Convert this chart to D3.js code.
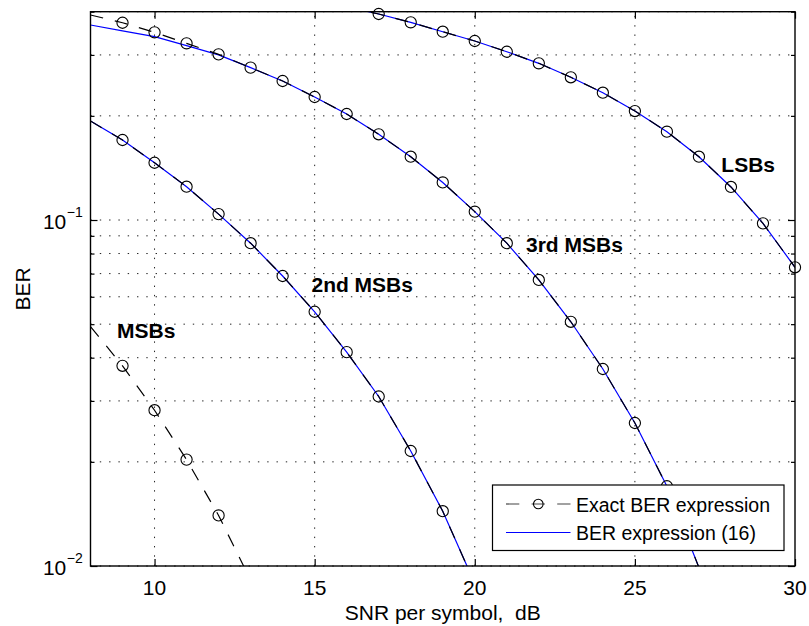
<!DOCTYPE html>
<html>
<head>
<meta charset="utf-8">
<script src="https://cdn.jsdelivr.net/npm/d3@7/dist/d3.min.js"></script>
<style>
  html, body { margin: 0; padding: 0; background: #fff; }
  svg { display: block; font-family: "Liberation Sans", Arial, Helvetica, sans-serif; }
  text { white-space: pre; }
</style>
</head>
<body>
<svg id="chart" width="809" height="626"></svg>
<script>
// SNR per symbol (dB) for each bit class
const snrMsb = [8, 9, 10, 11, 12, 13];
const snr2nd = [8, 9, 10, 11, 12, 13, 14, 15, 16, 17, 18, 19, 20];
const snr3rd = [8, 9, 10, 11, 12, 13, 14, 15, 16, 17, 18, 19, 20, 21, 22, 23, 24, 25, 26, 27];
const snrLsb = [16, 17, 18, 19, 20, 21, 22, 23, 24, 25, 26, 27, 28, 29, 30];

// Exact BER expression
const berMsbExact = [0.0492, 0.0379, 0.0282, 0.0203, 0.0140, 0.0091];
const ber2ndExact = [0.1932, 0.1703, 0.1464, 0.1248, 0.1040, 0.0857, 0.0689, 0.0543, 0.0415, 0.0309, 0.0215, 0.0144, 0.0089];
const ber3rdExact = [0.3914, 0.3717, 0.3487, 0.3241, 0.3012, 0.2756, 0.2522, 0.2267, 0.2025, 0.1769, 0.1524, 0.1284, 0.1057, 0.0857, 0.0671, 0.0508, 0.0371, 0.0259, 0.0170, 0.0099];
const berLsbExact = [0.413, 0.3939, 0.3727, 0.3501, 0.3291, 0.3064, 0.2837, 0.2585, 0.2333, 0.2065, 0.1800, 0.1524, 0.1246, 0.0978, 0.0730];

// BER expression (16)
const ber2ndApprox = [0.1932, 0.1703, 0.1464, 0.1248, 0.1040, 0.0857, 0.0689, 0.0543, 0.0415, 0.0309, 0.0215, 0.0144, 0.0089];
const ber3rdApprox = [0.3662, 0.3520, 0.3387, 0.3190, 0.3000, 0.2756, 0.2522, 0.2267, 0.2025, 0.1769, 0.1524, 0.1284, 0.1057, 0.0857, 0.0671, 0.0508, 0.0371, 0.0259, 0.0170, 0.0099];
const berLsbApprox = [0.413, 0.3939, 0.3727, 0.3501, 0.3291, 0.3064, 0.2837, 0.2585, 0.2333, 0.2065, 0.1800, 0.1524, 0.1246, 0.0978, 0.0730];

// Axis ticks
const xTicks = [10, 15, 20, 25, 30];
const xTickLabels = ["10", "15", "20", "25", "30"];
const yMajorTicks = [0.01, 0.1];
const yMajorExponents = ["\u22122", "\u22121"];
const yMinorTicks = [0.02, 0.03, 0.04, 0.05, 0.06, 0.07, 0.08, 0.09, 0.2, 0.3, 0.4];

// Curve annotations (anchored at the text baseline start)
const curveLabels = ["MSBs", "2nd MSBs", "3rd MSBs", "LSBs"];
const curveLabelSnr = [8.83, 14.90, 21.60, 27.70];
const curveLabelBer = [0.0457, 0.0621, 0.0810, 0.1379];

const legendLabels = ["Exact BER expression", "BER expression (16)"];
const xLabel = "SNR per symbol,  dB";
const yLabel = "BER";
const markerFrom = 9;

const svg = d3.select("#chart");
const plotLeft = 90.5, plotRight = 795, plotTop = 11.7, plotBottom = 566;

const x = d3.scaleLinear().domain([8, 30]).range([plotLeft, plotRight]);
const y = d3.scaleLog().domain([0.01, 0.4]).range([plotBottom, plotTop]);

svg.append("defs").append("clipPath").attr("id", "plotArea")
  .append("rect").attr("x", plotLeft).attr("y", plotTop)
  .attr("width", plotRight - plotLeft).attr("height", plotBottom - plotTop);

// Dotted grid
const grid = svg.append("g").attr("stroke", "#222").attr("stroke-width", 1)
  .attr("stroke-dasharray", "1.4,7.9");
grid.selectAll(".gx").data(xTicks.slice(0, -1)).join("line")
  .attr("x1", d => x(d)).attr("x2", d => x(d))
  .attr("y1", plotBottom).attr("y2", plotTop);
grid.selectAll(".gy").data(yMajorTicks.concat(yMinorTicks)).join("line")
  .attr("x1", plotLeft).attr("x2", plotRight)
  .attr("y1", d => y(d)).attr("y2", d => y(d));

// Axes with inward ticks on all four sides
const axisB = d3.axisBottom(x).tickValues(xTicks).tickSize(-7).tickFormat("");
const axisT = d3.axisTop(x).tickValues(xTicks).tickSize(-7).tickFormat("");
const axisLMajor = d3.axisLeft(y).tickValues(yMajorTicks).tickSize(-7).tickFormat("");
const axisLMinor = d3.axisLeft(y).tickValues(yMinorTicks).tickSize(-4).tickFormat("");
const axisRMajor = d3.axisRight(y).tickValues(yMajorTicks).tickSize(-7).tickFormat("");
const axisRMinor = d3.axisRight(y).tickValues(yMinorTicks).tickSize(-4).tickFormat("");

function styleAxis(g) {
  g.select(".domain").remove();
  g.selectAll(".tick line").attr("stroke", "#000").attr("stroke-width", 1.2);
}
svg.append("g").attr("transform", `translate(0,${plotBottom})`).call(axisB).call(styleAxis);
svg.append("g").attr("transform", `translate(0,${plotTop})`).call(axisT).call(styleAxis);
svg.append("g").attr("transform", `translate(${plotLeft},0)`).call(axisLMajor).call(styleAxis);
svg.append("g").attr("transform", `translate(${plotLeft},0)`).call(axisLMinor).call(styleAxis);
svg.append("g").attr("transform", `translate(${plotRight},0)`).call(axisRMajor).call(styleAxis);
svg.append("g").attr("transform", `translate(${plotRight},0)`).call(axisRMinor).call(styleAxis);

// Tick labels
svg.append("g").selectAll("text").data(xTicks).join("text")
  .attr("x", d => x(d)).attr("y", 594.5)
  .attr("text-anchor", "middle").attr("font-size", 21).attr("fill", "#000")
  .text((d, i) => xTickLabels[i]);

const yl = svg.append("g");
yl.selectAll(".base").data(yMajorTicks).join("text").attr("class", "base")
  .attr("x", 66.3).attr("y", d => y(d) + 8.6)
  .attr("text-anchor", "end").attr("font-size", 21).attr("fill", "#000")
  .text("10");
yl.selectAll(".exp").data(yMajorTicks).join("text").attr("class", "exp")
  .attr("x", 66.8).attr("y", d => y(d) - 3.5)
  .attr("text-anchor", "start").attr("font-size", 14).attr("fill", "#000")
  .text((d, i) => yMajorExponents[i]);

// Curves
const line = d3.line().x(d => x(d[0])).y(d => y(d[1]));
const pairs = (xs, ys) => xs.map((v, i) => [v, ys[i]]);

const approx = [pairs(snr2nd, ber2ndApprox), pairs(snr3rd, ber3rdApprox), pairs(snrLsb, berLsbApprox)];
const exact = [pairs(snrMsb, berMsbExact), pairs(snr2nd, ber2ndExact), pairs(snr3rd, ber3rdExact), pairs(snrLsb, berLsbExact)];

const curves = svg.append("g").attr("clip-path", "url(#plotArea)");
curves.selectAll(".approx").data(approx).join("path").attr("class", "approx")
  .attr("d", line).attr("fill", "none")
  .attr("stroke", "#0000ff").attr("stroke-width", 1.2);
curves.selectAll(".exact").data(exact).join("path").attr("class", "exact")
  .attr("d", line).attr("fill", "none")
  .attr("stroke", "#000").attr("stroke-width", 1.2)
  .attr("stroke-dasharray", "13,12");

// Circle markers on the exact curves
const markerPts = exact.flat().filter(d => d[0] >= markerFrom && d[1] >= 0.01 && d[1] <= 0.4);
svg.append("g").selectAll("circle").data(markerPts).join("circle")
  .attr("cx", d => x(d[0])).attr("cy", d => y(d[1])).attr("r", 5.6)
  .attr("fill", "none").attr("stroke", "#000").attr("stroke-width", 1.1);

// Curve annotations
svg.append("g").selectAll("text").data(curveLabels).join("text")
  .attr("x", (d, i) => x(curveLabelSnr[i])).attr("y", (d, i) => y(curveLabelBer[i]))
  .attr("font-size", 21).attr("font-weight", "bold").attr("fill", "#000")
  .text(d => d);

// Plot box
svg.append("rect").attr("x", plotLeft).attr("y", plotTop)
  .attr("width", plotRight - plotLeft).attr("height", plotBottom - plotTop)
  .attr("fill", "none").attr("stroke", "#000").attr("stroke-width", 1.4);

// Axis titles
svg.append("text").attr("x", (plotLeft + plotRight) / 2).attr("y", 619.5)
  .attr("text-anchor", "middle").attr("font-size", 21).attr("fill", "#000")
  .text(xLabel);
svg.append("text")
  .attr("transform", `translate(30,${(plotTop + plotBottom) / 2}) rotate(-90)`)
  .attr("text-anchor", "middle").attr("font-size", 21).attr("fill", "#000")
  .text(yLabel);

// Legend
const lg = svg.append("g");
lg.append("rect").attr("x", 492.5).attr("y", 485).attr("width", 291.5).attr("height", 65.5)
  .attr("fill", "#fff").attr("stroke", "#000").attr("stroke-width", 1.2);
lg.append("line").attr("x1", 506).attr("x2", 570.5).attr("y1", 504).attr("y2", 504)
  .attr("stroke", "#444").attr("stroke-width", 1.2).attr("stroke-dasharray", "13.3,12.3");
lg.append("circle").attr("cx", 538.3).attr("cy", 504).attr("r", 4.8)
  .attr("fill", "none").attr("stroke", "#000").attr("stroke-width", 1.1);
lg.append("line").attr("x1", 506).attr("x2", 570.5).attr("y1", 532.5).attr("y2", 532.5)
  .attr("stroke", "#0000ff").attr("stroke-width", 1.2);
lg.selectAll("text").data(legendLabels).join("text")
  .attr("x", 576).attr("y", (d, i) => i === 0 ? 511.7 : 540)
  .attr("font-size", 19.5).attr("fill", "#000")
  .text(d => d);
</script>
</body>
</html>
